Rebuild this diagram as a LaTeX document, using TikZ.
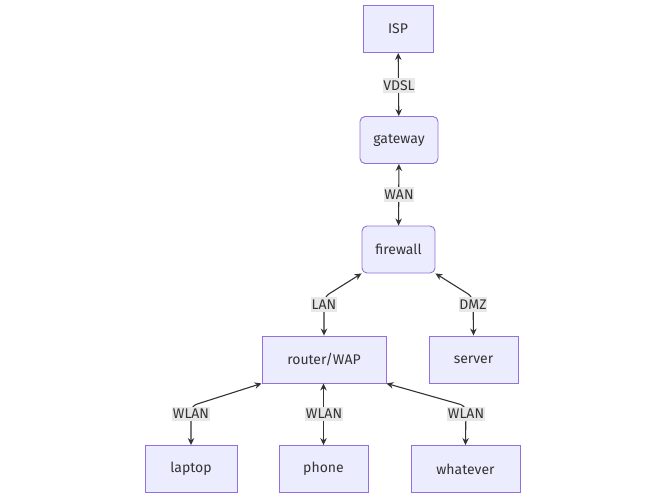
\documentclass[tikz,border=0pt]{standalone}
\usepackage{fontspec}
\setmainfont{Fira Sans}
\usepackage{tikz}
\usetikzlibrary{arrows.meta}
\definecolor{boxfill}{HTML}{ECECFF}
\definecolor{boxline}{HTML}{9370DB}
\definecolor{ink}{HTML}{333333}
\definecolor{lblfill}{HTML}{E8E8E8}

\begin{document}
\begin{tikzpicture}[x=1pt,y=-1pt,>={Stealth[length=7pt,width=6.5pt]},
  box/.style={rectangle,fill=boxfill,draw=boxline,line width=0.9pt,text=ink,minimum height=47pt,inner sep=0pt,font=\fontsize{14}{16}\selectfont},
  roundbox/.style={box,rounded corners=5pt},
  link/.style={<->,draw=ink,line width=1.1pt,rounded corners=6pt},
  lbl/.style={fill=lblfill,text=ink,inner xsep=0.5pt,inner ysep=2.5pt,font=\fontsize{14}{16}\selectfont}]
\useasboundingbox (0,0) rectangle (667,500);
% nodes
\node[box,minimum width=70pt] (isp) at (398,29) {ISP};
\node[roundbox,minimum width=78pt] (gw) at (399,140) {gateway};
\node[roundbox,minimum width=73pt] (fw) at (398.5,249.5) {firewall};
\node[box,minimum width=124pt] (router) at (324,359.5) {router/WAP};
\node[box,minimum width=89pt] (server) at (473.5,359.5) {server};
\node[box,minimum width=92pt] (laptop) at (191,469) {laptop};
\node[box,minimum width=89pt] (phone) at (323.5,469) {phone};
\node[box,minimum width=109pt] (whatever) at (465.5,469) {whatever};
% bends of the links
\coordinate (lanbend) at (324,297);
\coordinate (dmzbend) at (473,297);
\coordinate (wlanl) at (191,406);
\coordinate (wlanr) at (466,406);
% links
\draw[link] (isp) -- (gw);
\draw[link] (gw) -- (fw);
\draw[link] (fw.south west) -- (lanbend) -- (router.north);
\draw[link] (fw.south east) -- (dmzbend) -- (server.north);
\draw[link] (router.south west) -- (wlanl) -- (laptop.north);
\draw[link] (router.south -| phone.north) -- (phone.north);
\draw[link] (router.south east) -- (wlanr) -- (whatever.north);
% labels
\node[lbl] (vdsl) at (399,85.5) {VDSL};
\node[lbl] (wan) at (399,194.5) {WAN};
\node[lbl] (lan) at (324,304.5) {LAN};
\node[lbl] (dmz) at (473,304.5) {DMZ};
\node[lbl] (wlan1) at (191,414) {WLAN};
\node[lbl] (wlan2) at (324,414) {WLAN};
\node[lbl] (wlan3) at (466,414) {WLAN};
\end{tikzpicture}
\end{document}
